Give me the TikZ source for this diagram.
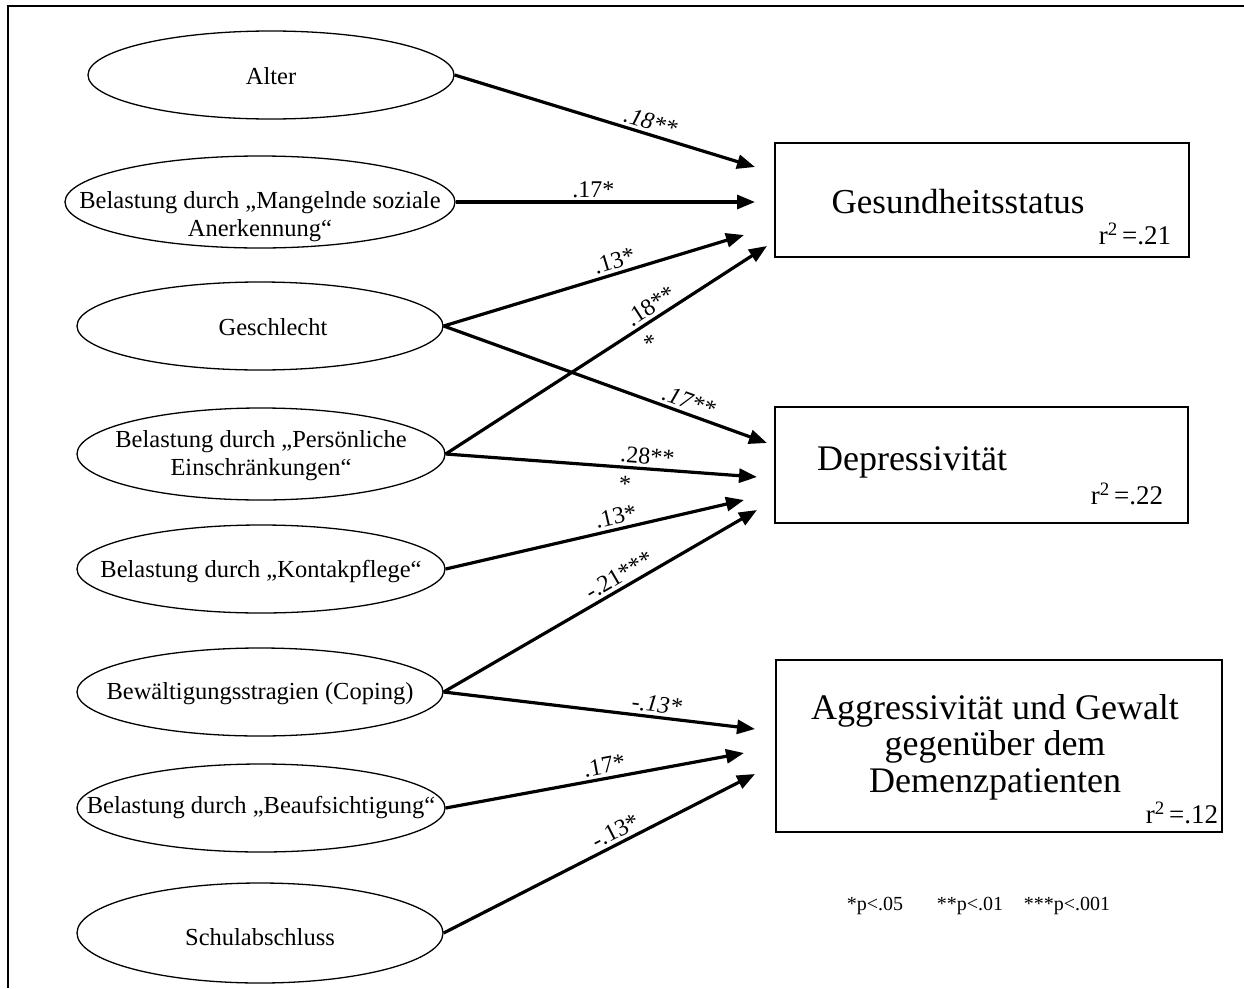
\documentclass[tikz,border=0pt]{standalone}
\usepackage{fontspec}
\setmainfont{Liberation Serif}
\usetikzlibrary{arrows.meta,shapes.geometric}
\begin{document}
\begin{tikzpicture}[x=1pt,y=-1pt,
  ell/.style={ellipse,draw,line width=1.3pt,inner sep=0pt},
  etxt/.style={font=\fontsize{24.5}{28}\selectfont,align=center,inner sep=0pt},
  outbox/.style={draw,line width=1.5pt,inner sep=0pt},
  conn/.style={line width=3.2pt,-{Triangle[length=18pt,width=14pt]}},
  coef/.style={font=\fontsize{24}{27}\selectfont,sloped,inner sep=3pt},
  bigtxt/.style={font=\fontsize{36}{36.5}\selectfont,align=center,inner sep=0pt},
  rtxt/.style={font=\fontsize{27}{30}\selectfont,inner sep=0pt},
  legtxt/.style={font=\fontsize{20}{24}\selectfont,inner sep=0pt}]
\useasboundingbox (0,0) rectangle (1244,988);
\draw[line width=2pt] (8,988) -- (8,6) -- (1244,6);

% predictor ellipses
\node[ell,minimum width=366,minimum height=88] (e1) at (271,75) {};
\node[ell,minimum width=390,minimum height=92] (e2) at (260,202) {};
\node[ell,minimum width=366,minimum height=88] (e3) at (260,326) {};
\node[ell,minimum width=368,minimum height=92] (e4) at (261,454) {};
\node[ell,minimum width=368,minimum height=88] (e5) at (261,569) {};
\node[ell,minimum width=366,minimum height=88] (e6) at (260,692) {};
\node[ell,minimum width=368,minimum height=88] (e7) at (261,808) {};
\node[ell,minimum width=366,minimum height=100] (e8) at (260,933) {};

\node[etxt] (t1) at (271,76) {Alter};
\node[etxt] (t2) at (260,217) {Belastung durch „Mangelnde soziale\\Anerkennung“};
\node[etxt] (t3) at (273,327) {Geschlecht};
\node[etxt] (t4) at (261,456) {Belastung durch „Persönliche\\Einschränkungen“};
\node[etxt] (t5) at (261,572) {Belastung durch „Kontakpflege“};
\node[etxt] (t6) at (260,694) {Bewältigungsstragien (Coping)};
\node[etxt] (t7) at (261,808) {Belastung durch „Beaufsichtigung“};
\node[etxt] (t8) at (260,937) {Schulabschluss};

% outcome boxes
\node[outbox,minimum width=414,minimum height=114] (b1) at (982,200) {};
\node[outbox,minimum width=413,minimum height=116] (b2) at (981.5,465) {};
\node[outbox,minimum width=446,minimum height=172] (b3) at (999,746) {};

\node[bigtxt,font=\fontsize{35}{36}\selectfont] (o1) at (958,202) {Gesundheitsstatus};
\node[rtxt] (r1) at (1135,234) {r\textsuperscript{2}\,=.21};
\node[bigtxt] (o2) at (912,462) {Depressivität};
\node[rtxt] (r2) at (1127,494) {r\textsuperscript{2}\,=.22};
\node[bigtxt] (o3) at (995,747) {Aggressivität und Gewalt\\gegenüber dem\\Demenzpatienten};
\node[rtxt] (r3) at (1182,813) {r\textsuperscript{2}\,=.12};

% arrow end points
\coordinate (a1) at (755,167);
\coordinate (a2) at (755,202);
\coordinate (a3) at (744,235);
\coordinate (a4) at (767,246);
\coordinate (a5) at (767,443);
\coordinate (a6) at (757,477);
\coordinate (a7) at (744,500);
\coordinate (a8) at (757,510);
\coordinate (a9) at (755,729);
\coordinate (a10) at (744,753);
\coordinate (a11) at (755,774);

% connectors
\draw[conn] (e1.east) -- node[coef,pos=0.64,above] {\textit{.18**}} (a1);
\draw[conn] (e2.east) -- node[coef,pos=0.46,above] {.17*} (a2);
\draw[conn] (e3.east) -- node[coef,pos=0.58,above] {.13*} (a3);
\draw[conn] (e4.east) -- node[coef,pos=0.66,above] {.18**} node[coef,pos=0.61,below,yshift=-6pt] {*} (a4);
\draw[conn] (e3.east) -- node[coef,pos=0.745,above] {\textit{.17**}} (a5);
\draw[conn] (e4.east) -- node[coef,pos=0.645,above] {.28**} node[coef,pos=0.58,below,yshift=-4pt] {*} (a6);
\draw[conn] (e5.east) -- node[coef,pos=0.58,above] {.13*} (a7);
\draw[conn] (e6.east) -- node[coef,pos=0.58,above] {-.21***} (a8);
\draw[conn] (e6.east) -- node[coef,pos=0.68,above] {-\textit{.13*}} (a9);
\draw[conn] (e7.east) -- node[coef,pos=0.54,above] {.17*} (a10);
\draw[conn] (e8.east) -- node[coef,pos=0.57,above] {-.13*} (a11);

% legend
\node[legtxt] (l1) at (875,906) {*p<.05};
\node[legtxt] (l2) at (970,906) {**p<.01};
\node[legtxt] (l3) at (1067,906) {***p<.001};
\end{tikzpicture}
\end{document}
